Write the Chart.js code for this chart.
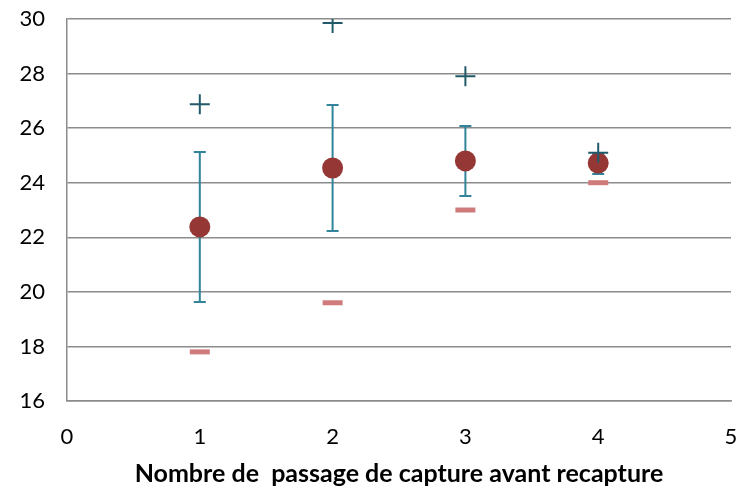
<!DOCTYPE html>
<html>
<head>
<meta charset="utf-8">
<script src="https://cdn.jsdelivr.net/npm/chart.js@4/dist/chart.umd.min.js"></script>
<style>
  html, body { margin: 0; padding: 0; background: #fff; overflow: hidden; }
  #wrap { width: 737px; height: 491px; position: relative; }
  canvas { display: block; }
</style>
</head>
<body>
<div id="wrap"><canvas id="c"></canvas></div>
<script>
// captures 1..4
const passes   = [1, 2, 3, 4];
const means    = [22.38, 24.54, 24.80, 24.72];
const errHigh  = [25.13, 26.85, 26.08, 25.05];
const errLow   = [19.63, 22.23, 23.51, 24.32];
const maxVals  = [26.88, 29.85, 27.90, 25.10];
const minVals  = [17.80, 19.60, 23.00, 24.00];
const xTicks   = [0, 1, 2, 3, 4, 5];
const yTicks   = [16, 18, 20, 22, 24, 26, 28, 30];
const xTitle   = 'Nombre de  passage de capture avant recapture';

const pts = (ys) => passes.map((x, i) => ({ x, y: ys[i] }));

// error bars drawn under the markers, from the scales
const errorBars = {
  id: 'errorBars',
  beforeDatasetsDraw(chart) {
    const { ctx, scales: { x, y } } = chart;
    ctx.save();
    ctx.strokeStyle = '#31849b';
    ctx.lineWidth = 2;
    passes.forEach((p, i) => {
      const px = x.getPixelForValue(p);
      const top = y.getPixelForValue(errHigh[i]);
      const bot = y.getPixelForValue(errLow[i]);
      ctx.beginPath();
      ctx.moveTo(px, top); ctx.lineTo(px, bot);
      ctx.moveTo(px - 6, top); ctx.lineTo(px + 6, top);
      ctx.moveTo(px - 6, bot); ctx.lineTo(px + 6, bot);
      ctx.stroke();
    });
    ctx.restore();
  }
};

new Chart(document.getElementById('c'), {
  type: 'scatter',
  data: {
    datasets: [
      {
        label: 'Max',
        data: pts(maxVals),
        pointStyle: 'cross',
        pointRadius: 10,
        borderColor: '#215a69',
        backgroundColor: '#215a69',
        borderWidth: 2
      },
      {
        label: 'Min',
        data: pts(minVals),
        pointStyle: 'line',
        pointRadius: 10,
        borderColor: '#cf7b7b',
        backgroundColor: '#cf7b7b',
        borderWidth: 5
      },
      {
        label: 'Moyenne',
        data: pts(means),
        pointStyle: 'circle',
        pointRadius: 10.5,
        borderWidth: 0,
        backgroundColor: '#953735',
        borderColor: '#953735'
      }
    ]
  },
  options: {
    responsive: true,
    maintainAspectRatio: false,
    animation: false,
    layout: { autoPadding: false, padding: { top: 19, right: 6, left: 0, bottom: 2 } },
    plugins: {
      legend: { display: false },
      tooltip: { enabled: false }
    },
    scales: {
      x: {
        type: 'linear',
        min: 0, max: 5,
        afterBuildTicks: (s) => { s.ticks = xTicks.map(v => ({ value: v })); },
        afterFit: (s) => { s.height = 88; s.paddingLeft = 0; s.paddingRight = 0; },
        grid: {
          display: true, drawOnChartArea: false, drawTicks: true,
          tickLength: 23, tickColor: 'rgba(0,0,0,0)', color: 'rgba(0,0,0,0)'
        },
        border: { display: true, color: '#8c8c8c', width: 1.5 },
        ticks: { color: '#000', font: { family: 'Lato', size: 22 }, padding: 0 },
        title: {
          display: true,
          text: xTitle,
          color: '#000',
          font: { family: 'Lato', size: 25, weight: 'bold' },
          padding: { top: 0, bottom: 0 }
        }
      },
      y: {
        min: 16, max: 30,
        afterBuildTicks: (s) => { s.ticks = yTicks.map(v => ({ value: v })); },
        afterFit: (s) => { s.width = 67; s.paddingTop = 0; s.paddingBottom = 0; },
        grid: { color: '#8c8c8c', lineWidth: 1.5, drawTicks: false },
        border: { display: true, color: '#8c8c8c', width: 1.5 },
        ticks: { color: '#000', font: { family: 'Lato', size: 22 }, padding: 22 }
      }
    }
  },
  plugins: [errorBars]
});
</script>
</body>
</html>
